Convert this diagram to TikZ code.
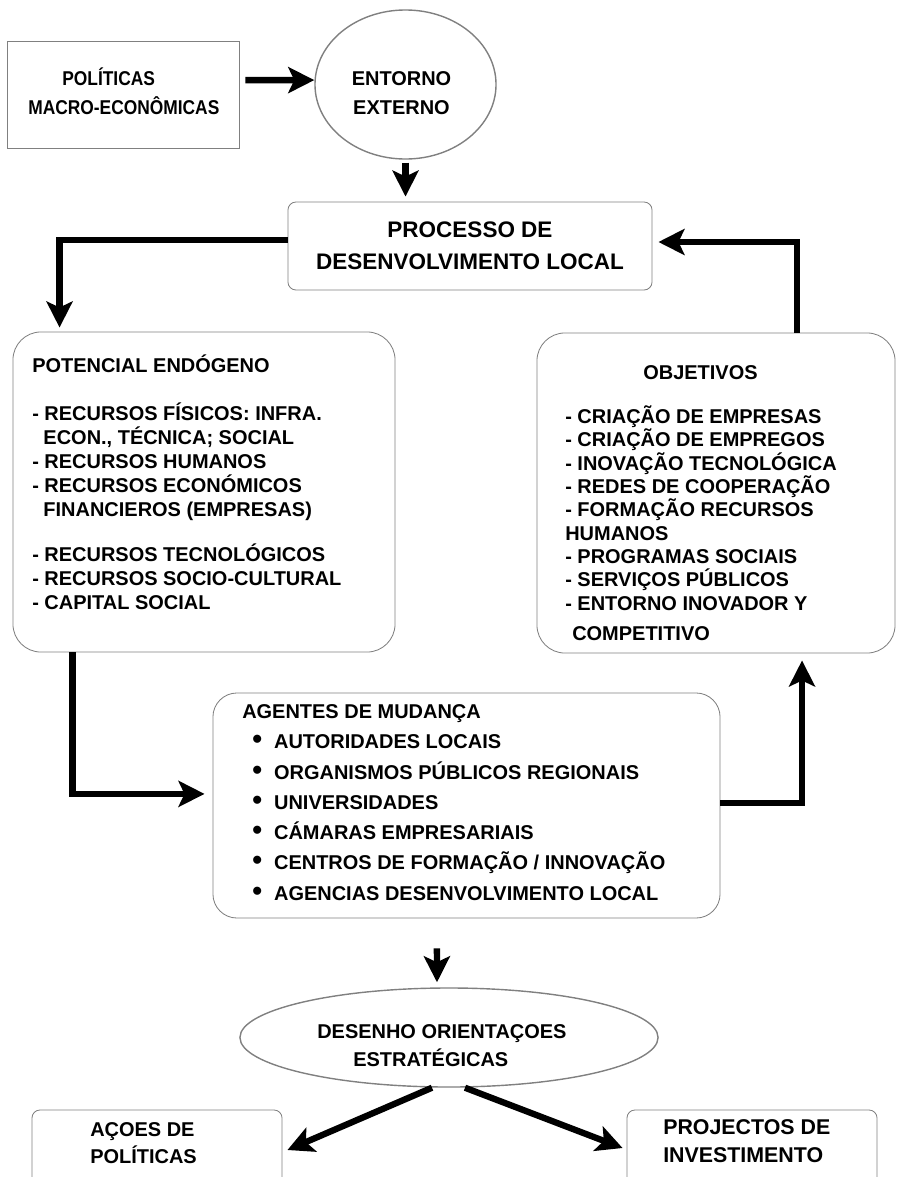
\documentclass[tikz,border=0pt]{standalone}
\usepackage{fontspec}
\setmainfont{Liberation Sans}
\newfontfamily\narrowfont[FakeStretch=0.87]{Liberation Sans}
\usepackage{tikz}
\usetikzlibrary{arrows.meta, shapes.geometric}
\definecolor{linegray}{RGB}{128,128,128}
\newcommand{\agbullet}{\hspace*{0.25cm}{\fontsize{20pt}{20pt}\selectfont\textbullet}\hspace*{0.3cm}}

\begin{document}
\begin{tikzpicture}[x=0.025cm, y=-0.025cm,
  box/.style={draw=linegray, line width=0.6pt, inner sep=0pt},
  oval/.style={draw=linegray, line width=1pt, ellipse, inner sep=0pt},
  txt/.style 2 args={font=\bfseries\fontsize{#1}{#2}\selectfont, inner sep=0pt},
  flow/.style={-{Stealth[length=0.65cm, width=0.65cm, inset=0.15cm]}, line width=4.5pt}]
\useasboundingbox (0,0) rectangle (897,1177);
\clip (0,0) rectangle (897,1177);

% Boxes and ellipses
\node[box, minimum width=5.8cm, minimum height=2.675cm] (politicas) at (123,94.5) {};
\node[oval, minimum width=4.525cm, minimum height=3.725cm] (entorno) at (405.5,84.5) {};
\node[box, rounded corners=0.2cm, minimum width=9.1cm, minimum height=2.2cm] (processo) at (470,246) {};
\node[box, rounded corners=0.7cm, minimum width=9.55cm, minimum height=8cm] (potencial) at (204,492) {};
\node[box, rounded corners=0.7cm, minimum width=8.95cm, minimum height=8cm] (objetivos) at (716,493) {};
\node[box, rounded corners=0.6cm, minimum width=12.675cm, minimum height=5.625cm] (agentes) at (466.5,805.5) {};
\node[oval, minimum width=10.45cm, minimum height=2.475cm] (desenho) at (449,1037.5) {};
\node[box, rounded corners=0.2cm, minimum width=6.25cm, minimum height=2.25cm] (acoes) at (157,1155) {};
\node[box, rounded corners=0.2cm, minimum width=6.25cm, minimum height=2.25cm] (projectos) at (752,1155) {};

% Labels
\node[inner sep=0pt, anchor=west, align=left, font=\narrowfont\bfseries\fontsize{14.2pt}{20.6pt}\selectfont] (politicastxt) at (28,91.5)
  {\hspace*{0.85cm}POLÍTICAS\\MACRO-ECONÔMICAS};
\node[txt={14.2pt}{20.6pt}, align=center] (entornotxt) at (401.5,93.5) {ENTORNO\\EXTERNO};
\node[txt={16pt}{22.8pt}, align=center] (processotxt) at (470,246) {PROCESSO DE\\DESENVOLVIMENTO LOCAL};
\node[txt={14.2pt}{17.07pt}, anchor=west, align=left] (potencialtxt) at (32,482) {%
  POTENCIAL ENDÓGENO\\[0.6cm]
  - RECURSOS FÍSICOS: INFRA.\\
  \hspace*{0.28cm}ECON., TÉCNICA; SOCIAL\\
  - RECURSOS HUMANOS\\
  - RECURSOS ECONÓMICOS\\
  \hspace*{0.28cm}FINANCIEROS (EMPRESAS)\\[0.525cm]
  - RECURSOS TECNOLÓGICOS\\
  - RECURSOS SOCIO-CULTURAL\\
  - CAPITAL SOCIAL};
\node[txt={14.2pt}{16.57pt}, anchor=west, align=left] (objetivostxt) at (565,503) {%
  \hspace*{1.95cm}OBJETIVOS\\[0.52cm]
  - CRIAÇÃO DE EMPRESAS\\
  - CRIAÇÃO DE EMPREGOS\\
  - INOVAÇÃO TECNOLÓGICA\\
  - REDES DE COOPERAÇÃO\\
  - FORMAÇÃO RECURSOS\\
  HUMANOS\\
  - PROGRAMAS SOCIAIS\\
  - SERVIÇOS PÚBLICOS\\
  - ENTORNO INOVADOR Y\\[0.17cm]
  \hspace*{0.175cm}COMPETITIVO};
\node[txt={14.2pt}{21.48pt}, anchor=west, align=left] (agentestxt) at (242,802.5) {%
  AGENTES DE MUDANÇA\\
  \agbullet AUTORIDADES LOCAIS\\
  \agbullet ORGANISMOS PÚBLICOS REGIONAIS\\
  \agbullet UNIVERSIDADES\\
  \agbullet CÁMARAS EMPRESARIAIS\\
  \agbullet CENTROS DE FORMAÇÃO / INNOVAÇÃO\\
  \agbullet AGENCIAS DESENVOLVIMENTO LOCAL};
\node[txt={14.2pt}{19.92pt}, anchor=west, align=left] (desenhotxt) at (317,1046)
  {DESENHO ORIENTAÇOES\\\hspace*{0.9cm}ESTRATÉGICAS};
\node[txt={14.2pt}{19.2pt}, anchor=west, align=left] (acoestxt) at (90,1143.5) {AÇOES DE\\POLÍTICAS};
\node[txt={15.2pt}{19.92pt}, anchor=west, align=left] (projectostxt) at (663,1141) {PROJECTOS DE\\INVESTIMENTO};

% Arrows
\draw[flow, shorten <=0.15cm] ([yshift=0.36cm]politicas.east) -- ([yshift=0.11cm]entorno.west);
\draw[flow, shorten <=0.075cm, shorten >=0.125cm] (entorno.south) -- (entorno.south |- processo.north);
\draw[flow, shorten >=0.1cm] ([yshift=0.15cm]processo.west) -| ([xshift=1.175cm]potencial.north west);
\draw[flow, shorten >=0.15cm] ([xshift=2.025cm]objetivos.north) |- ([yshift=0.1cm]processo.east);
\draw[flow, shorten >=0.2cm] ([xshift=1.5cm]potencial.south west) |- ([yshift=0.29cm]agentes.west);
\draw[flow, shorten >=0.175cm] ([yshift=0.06cm]agentes.east) -| ([xshift=2.15cm]objetivos.south);
\draw[flow] ([xshift=-0.74cm, yshift=-0.75cm]agentes.south) -- ([xshift=-0.3cm, yshift=0.125cm]desenho.north);
\draw[flow] ([xshift=-0.425cm]desenho.south) -- ([xshift=0.125cm, yshift=0.125cm]acoes.east);
\draw[flow] ([xshift=0.4cm]desenho.south) -- ([xshift=-0.1cm, yshift=0.175cm]projectos.west);
\end{tikzpicture}
\end{document}
